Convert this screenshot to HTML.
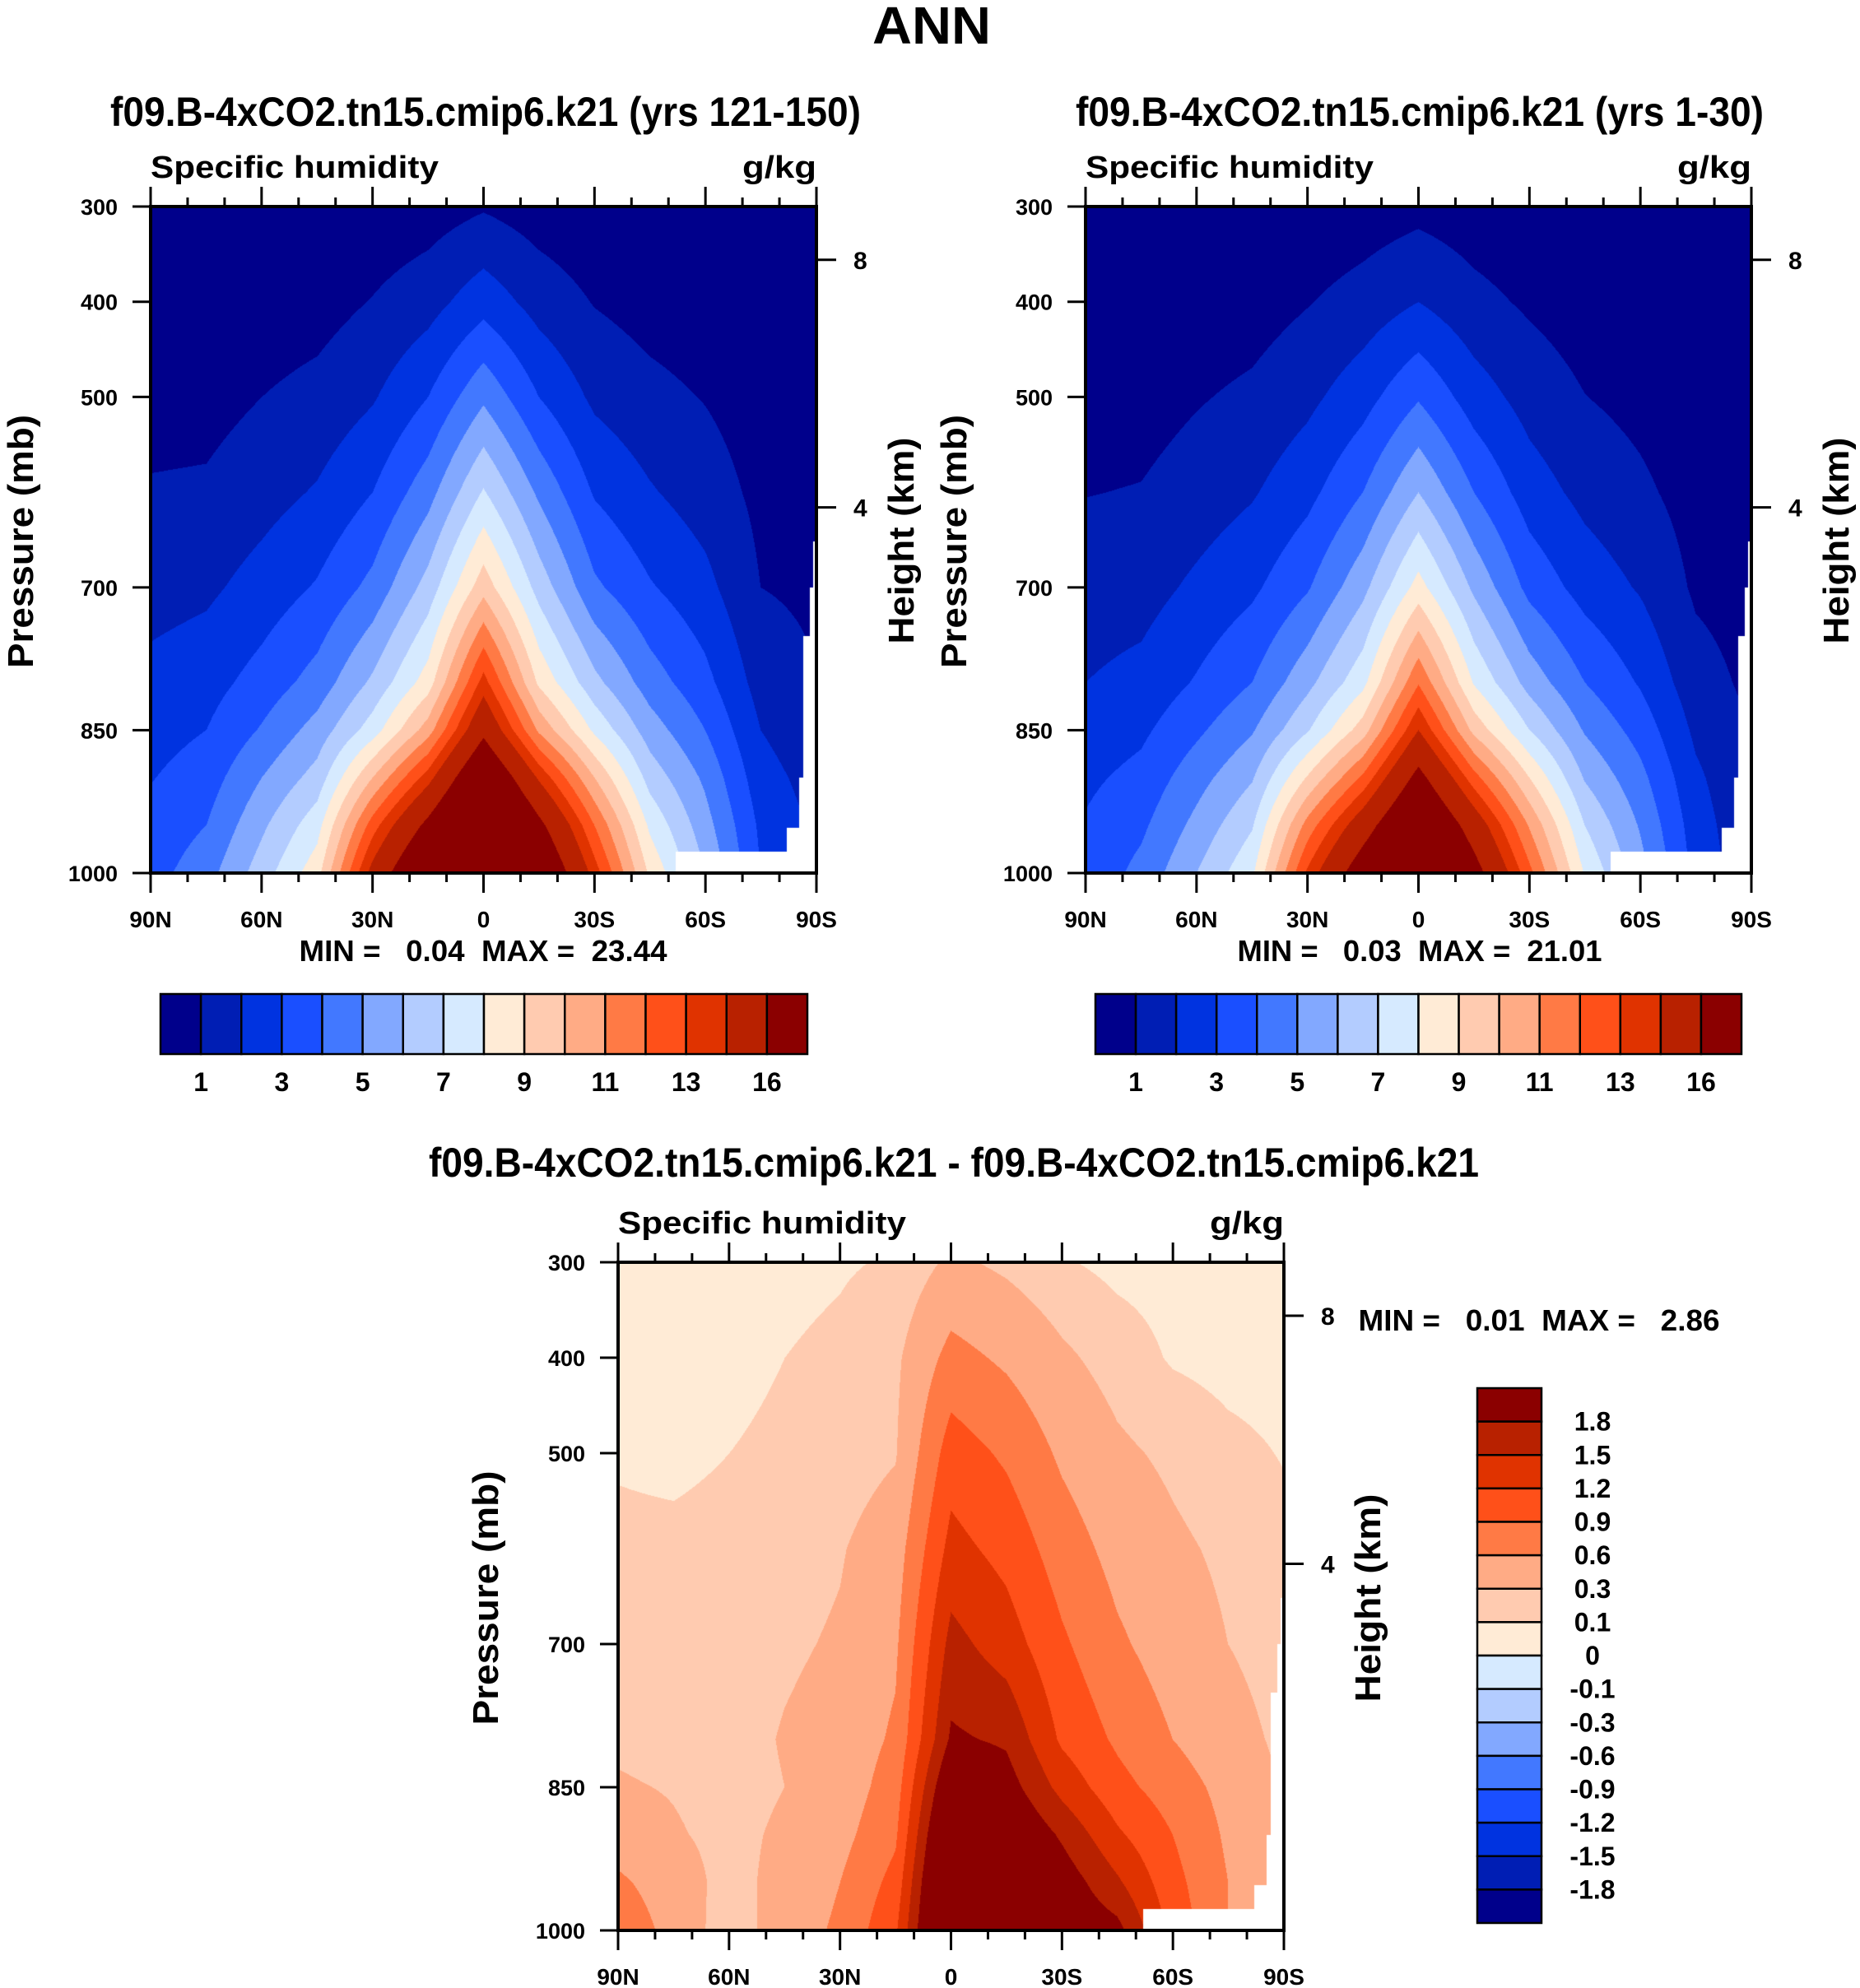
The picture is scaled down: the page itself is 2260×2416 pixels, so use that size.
<!DOCTYPE html>
<html><head><meta charset="utf-8"><style>
body{margin:0;background:#fff;width:2260px;height:2416px;position:relative;overflow:hidden}
canvas{position:absolute}
svg{position:absolute;left:0;top:0}
text{font-family:"Liberation Sans",sans-serif;font-weight:bold;fill:#000;white-space:pre}
</style></head><body>
<canvas id="c1" width="809" height="810" style="left:183px;top:251px"></canvas>
<canvas id="c2" width="809" height="810" style="left:1319px;top:251px"></canvas>
<canvas id="c3" width="809" height="812" style="left:751px;top:1534px"></canvas>
<svg id="s" width="2260" height="2416"></svg>
<script>
const lats=[90,75,60,45,30,15,0,-15,-30,-45,-60,-75,-90];
const pres=[300,400,500,600,700,800,850,900,950,1000];
// plot 1 (yrs 121-150), columns by latitude, values by pressure
const q1=[
[0.05,0.25,0.6,1.1,1.6,2.3,2.6,2.95,3.3,3.6],
[0.05,0.3,0.65,1.15,1.8,2.6,3.0,3.5,4.0,4.6],
[0.1,0.45,1.0,1.6,2.4,3.4,4.1,5,5.8,6.5],
[0.15,0.6,1.3,2.1,3.1,4.4,5.4,6.4,7.6,8.6],
[0.3,1.05,1.9,3.0,4.3,6.2,7.5,10,12.5,14.5],
[0.5,1.6,3.0,4.6,6.4,8.5,10.5,13.5,16.5,19],
[0.9,2.6,4.8,7.1,9.6,13.4,15.5,18.5,21,23],
[0.5,1.6,3.0,4.8,6.6,8.8,10.8,13.8,16.5,18.5],
[0.25,0.95,1.8,2.9,4.2,6.3,7.8,10,12,13.5],
[0.15,0.6,1.3,2.1,3.1,4.5,5.5,6.6,7.8,8.8],
[0.1,0.4,0.95,1.5,2.3,3.3,4,4.8,5.4,6],
[0.05,0.25,0.5,0.75,1.0,1.6,2.0,2.4,2.8,3],
[0.03,0.15,0.35,0.55,0.8,1.05,1.3,1.6,1.8,2]];
// plot 2 (yrs 1-30)
const q2=[
[0.04,0.22,0.5,0.97,1.5,2.0,2.4,2.8,3.1,3.3],
[0.04,0.25,0.6,1.05,1.6,2.3,2.8,3.3,3.8,4.3],
[0.08,0.4,0.92,1.45,2.2,3.1,3.8,4.6,5.3,6],
[0.12,0.55,1.2,1.9,2.8,4.0,4.9,5.9,6.9,7.8],
[0.25,0.95,1.75,2.7,3.9,5.7,6.9,9.1,11.4,13.2],
[0.45,1.4,2.6,4.0,5.7,7.7,9.5,12.2,15,17.3],
[0.7,2.0,3.9,6.0,8.4,11.9,14,16.6,19,21],
[0.45,1.3,2.5,4.0,5.8,7.9,9.7,12.4,15,16.8],
[0.25,0.85,1.6,2.5,3.7,5.6,7,9,10.9,12.3],
[0.15,0.5,1.02,1.7,2.6,4.0,4.9,5.9,7,7.9],
[0.08,0.3,0.7,1.2,1.9,2.9,3.6,4.3,4.9,5.4],
[0.04,0.15,0.35,0.6,0.85,1.4,1.8,2.2,2.5,2.7],
[0.02,0.08,0.25,0.42,0.6,0.8,0.95,1.1,1.2,1.3]];
// difference
const q3=[
[0.03,0.05,0.09,0.12,0.15,0.25,0.33,0.45,0.65,0.8],
[0.03,0.05,0.08,0.12,0.15,0.2,0.28,0.33,0.45,0.5],
[0.03,0.06,0.1,0.13,0.18,0.2,0.2,0.22,0.2,0.15],
[0.05,0.1,0.13,0.2,0.26,0.32,0.3,0.35,0.4,0.45],
[0.08,0.14,0.18,0.28,0.33,0.4,0.42,0.5,0.6,0.65],
[0.12,0.25,0.28,0.45,0.55,0.65,0.75,0.85,1.0,1.15],
[0.35,0.7,1.05,1.3,1.6,1.85,2.2,2.5,2.7,2.8],
[0.25,0.55,0.85,1.1,1.35,1.75,1.95,2.2,2.4,2.5],
[0.12,0.35,0.55,0.75,0.95,1.15,1.4,1.75,2.0,2.1],
[0.05,0.2,0.35,0.5,0.65,0.85,1.0,1.25,1.55,1.9],
[0.03,0.08,0.25,0.35,0.45,0.6,0.75,0.9,1.0,1.1],
[0.02,0.04,0.15,0.25,0.3,0.4,0.5,0.55,0.6,0.6],
[0.02,0.03,0.09,0.15,0.2,0.25,0.28,0.3,0.3,0.3]];
// missing-data (topography) mask: south of maskLat, below maskP
const maskLat=[-52,-82,-85.5,-86.5,-88.3,-89.3];
const maskP=[978,953,900,751,700,652];
const lev1=[1,2,3,4,5,6,7,8,9,10,11,12,13,14,16];
const lab1=["1","3","5","7","9","11","13","16"];
const lev3=[-1.8,-1.5,-1.2,-0.9,-0.6,-0.3,-0.1,0,0.1,0.3,0.6,0.9,1.2,1.5,1.8];
const lab3=["1.8","1.5","1.2","0.9","0.6","0.3","0.1","0","-0.1","-0.3","-0.6","-0.9","-1.2","-1.5","-1.8"];
const xticks=[90,60,30,0,-30,-60,-90];
const xlabs=["90N","60N","30N","0","30S","60S","90S"];
const pticks=[300,400,500,700,850,1000];
const hticks=[8,4];
const hpres=[356,616];
const cols=["#00008B","#001EB4","#0033E0","#1A4FFF","#4278FF","#82A8FF","#B3CCFF","#D6EAFF","#FFEBD6","#FFCBB0","#FFAB85","#FF7A45","#FF5019","#E03300","#B82100","#8B0000"];

function hex(c){return [parseInt(c.substr(1,2),16),parseInt(c.substr(3,2),16),parseInt(c.substr(5,2),16)];}
const rgb=cols.map(hex);
function interp(arr,v){
  for(let i=0;i<arr.length-1;i++){const a=arr[i],b=arr[i+1];
    if((v-a)*(v-b)<=0){return i+(v-a)/(b-a);} }
  return v<arr[0]===arr[0]<arr[1]?0:arr.length-1;
}
function masked(lat,p){let ps=1e9;for(let i=0;i<maskLat.length;i++){if(lat<=maskLat[i])ps=maskP[i];}return p>ps;}
function drawField(id,q,lev){
  const cv=document.getElementById(id),ctx=cv.getContext('2d');
  const W=cv.width,H=cv.height,img=ctx.createImageData(W,H);
  for(let y=0;y<H;y++){const p=300+700*y/(H-1);
    let fy=interp(pres,p);let j=Math.min(Math.floor(fy),pres.length-2),ty=fy-j;
    for(let x=0;x<W;x++){const lat=90-180*x/(W-1);const k=(y*W+x)*4;
      if(masked(lat,p)){img.data[k]=255;img.data[k+1]=255;img.data[k+2]=255;img.data[k+3]=255;continue;}
      let fx=interp(lats,lat);let i=Math.min(Math.floor(fx),lats.length-2),tx=fx-i;
      const v=(q[i][j]*(1-tx)+q[i+1][j]*tx)*(1-ty)+(q[i][j+1]*(1-tx)+q[i+1][j+1]*tx)*ty;
      let b=0;while(b<lev.length&&v>=lev[b])b++;
      const c=rgb[b];img.data[k]=c[0];img.data[k+1]=c[1];img.data[k+2]=c[2];img.data[k+3]=255;}}
  ctx.putImageData(img,0,0);
}
drawField('c1',q1,lev1);drawField('c2',q2,lev1);drawField('c3',q3,lev3);

const S=document.getElementById('s');const NS="http://www.w3.org/2000/svg";
function el(tag,at,name){const e=document.createElementNS(NS,tag);for(const k in at)e.setAttribute(k,at[k]);
  
  
  S.appendChild(e);return e;}
function txt(s,x,y,size,anchor,name,len,rot){const at={x:x,y:y,'font-size':size,'text-anchor':anchor||'start'};
  if(len){at.textLength=len;at.lengthAdjust='spacingAndGlyphs';}
  if(rot)at.transform='rotate(-90 '+x+' '+y+')';
  const e=el('text',at,name);e.setAttributeNS('http://www.w3.org/XML/1998/namespace','xml:space','preserve');e.textContent=s;return e;}
function ln(x1,y1,x2,y2,w,name){return el('line',{x1:x1,y1:y1,x2:x2,y2:y2,stroke:'#000','stroke-width':w||3},name);}

function axes(L,T,W,H,pfx){
  const R=L+W,B=T+H;
  const xs=lat=>L+(90-lat)/180*W, ys=p=>T+(p-300)/700*H;
  el('rect',{x:L,y:T,width:W,height:H,fill:'none',stroke:'#000','stroke-width':4},pfx+'-frame');
  for(let lat=90;lat>=-90;lat-=10){const major=lat%30===0;const x=xs(lat);const l=major?24:11;
    ln(x,B,x,B+l,3,pfx+'-xtick-bottom');ln(x,T,x,T-l,3,pfx+'-xtick-top');}
  xticks.forEach((lat,i)=>txt(xlabs[i],xs(lat),B+66,28,'middle',pfx+'-xtick-label'));
  pticks.forEach(p=>{ln(L,ys(p),L-22,ys(p),3,pfx+'-ytick');txt(String(p),L-40,ys(p)+10,27,'end',pfx+'-ytick-label');});
  hticks.forEach((h,i)=>{const y=ys(hpres[i]);ln(R,y,R+24,y,3,pfx+'-htick');txt(String(h),R+45,y+11,30,'start',pfx+'-htick-label');});
  txt('Specific humidity',L,T-35,38,'start',pfx+'-left-string',350);
  txt('g/kg',R,T-35,38,'end',pfx+'-right-string',90);
}
function hbar(L,T,W,H,pfx){const bw=W/16;
  for(let i=0;i<16;i++)el('rect',{x:L+i*bw,y:T,width:bw,height:H,fill:cols[i],stroke:'#000','stroke-width':2.5},pfx+'-colorbar-box');
  lab1.forEach((s,i)=>txt(s,L+bw*(2*i+1),T+118,32,'middle',pfx+'-colorbar-label'));}

txt('ANN',1132,53,64,'middle','main-title',144);
txt('f09.B-4xCO2.tn15.cmip6.k21 (yrs 121-150)',590,153,50,'middle','plot1-title',912);
axes(183,251,809,810,'plot1');
txt('Pressure (mb)',40,658,44,'middle','plot1-y-axis-title',308,true);
txt('Height (km)',1110,657,44,'middle','plot1-height-axis-title',251,true);
txt('MIN =   0.04  MAX =  23.44',587,1168,36,'middle','plot1-minmax',447);
hbar(195,1208,786,73,'plot1');
txt('f09.B-4xCO2.tn15.cmip6.k21 (yrs 1-30)',1725,153,50,'middle','plot2-title',836);
axes(1319,251,809,810,'plot2');
txt('Pressure (mb)',1174,658,44,'middle','plot2-y-axis-title',308,true);
txt('Height (km)',2246,657,44,'middle','plot2-height-axis-title',251,true);
txt('MIN =   0.03  MAX =  21.01',1725,1168,36,'middle','plot2-minmax',443);
hbar(1331,1208,785,73,'plot2');
txt('f09.B-4xCO2.tn15.cmip6.k21 - f09.B-4xCO2.tn15.cmip6.k21',1159,1430,50,'middle','diff-title',1276);
axes(751,1534,809,812,'diff');
txt('Pressure (mb)',605,1942,44,'middle','diff-y-axis-title',309,true);
txt('Height (km)',1677,1942,44,'middle','diff-height-axis-title',253,true);
txt('MIN =   0.01  MAX =   2.86',1870,1617,36,'middle','diff-minmax',439);
(function(){const L=1795,T=1687,W=78,H=650,bh=H/16;
  for(let i=0;i<16;i++)el('rect',{x:L,y:T+i*bh,width:W,height:bh,fill:cols[15-i],stroke:'#000','stroke-width':2.5},'diff-colorbar-box');
  lab3.forEach((s,i)=>txt(s,1935,T+bh*(i+1)+11,32,'middle','diff-colorbar-label'));})();
</script>
</body></html>
